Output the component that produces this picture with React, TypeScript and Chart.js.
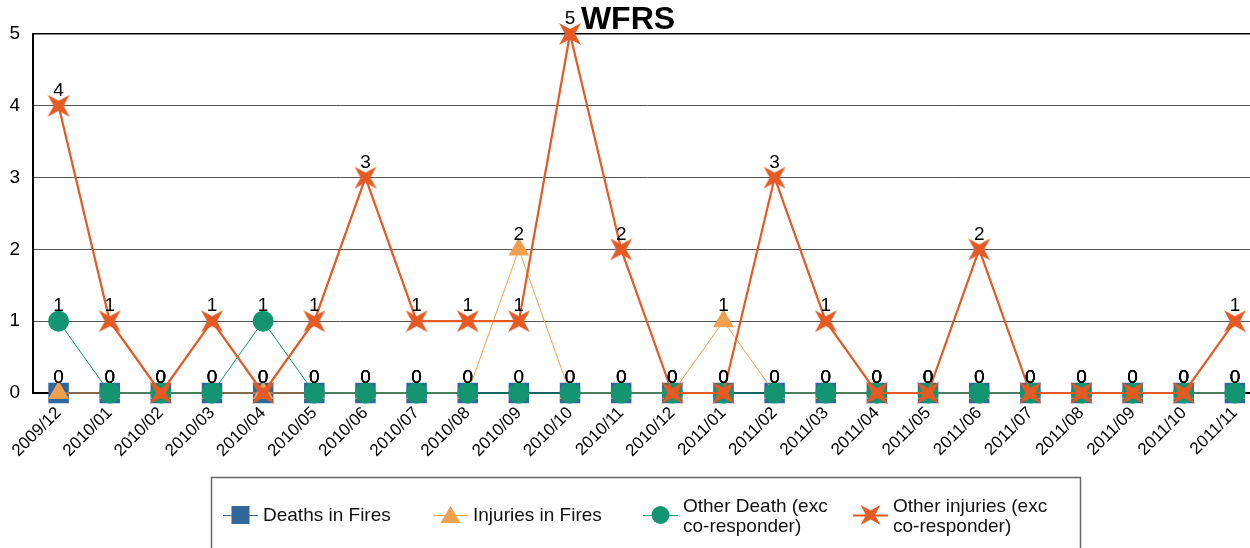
import React, { useEffect, useRef } from "react";
import { Chart, registerables } from "chart.js";

Chart.register(...registerables);

const titleText = "WFRS";

const categories = [
  "2009/12",
  "2010/01", "2010/02", "2010/03", "2010/04", "2010/05", "2010/06",
  "2010/07", "2010/08", "2010/09", "2010/10", "2010/11", "2010/12",
  "2011/01", "2011/02", "2011/03", "2011/04", "2011/05", "2011/06",
  "2011/07", "2011/08", "2011/09", "2011/10", "2011/11",
];

const deathsInFires = [0, 0, 0, 0, 0, 0, 0, 0, 0, 0, 0, 0, 0, 0, 0, 0, 0, 0, 0, 0, 0, 0, 0, 0];
const injuriesInFires = [0, 0, 0, 0, 0, 0, 0, 0, 0, 2, 0, 0, 0, 1, 0, 0, 0, 0, 0, 0, 0, 0, 0, 0];
const otherDeath = [1, 0, 0, 0, 1, 0, 0, 0, 0, 0, 0, 0, 0, 0, 0, 0, 0, 0, 0, 0, 0, 0, 0, 0];
const otherInjuries = [4, 1, 0, 1, 0, 1, 3, 1, 1, 1, 5, 2, 0, 0, 3, 1, 0, 0, 2, 0, 0, 0, 0, 1];

const yTicks = [0, 1, 2, 3, 4, 5];

const seriesNames = [
  ["Deaths in Fires"],
  ["Injuries in Fires"],
  ["Other Death (exc", "co-responder)"],
  ["Other injuries (exc", "co-responder)"],
];

const COLORS = {
  blue: "#336699",
  orange: "#F0A04E",
  green: "#129570",
  red: "#E35A24",
};

const FONT = '"Liberation Sans", Arial, Helvetica, sans-serif';

function drawStar(ctx: CanvasRenderingContext2D, cx: number, cy: number, tip: number, inner: number) {
  ctx.beginPath();
  ctx.moveTo(cx - tip, cy - tip);
  ctx.lineTo(cx, cy - inner);
  ctx.lineTo(cx + tip, cy - tip);
  ctx.lineTo(cx + inner, cy);
  ctx.lineTo(cx + tip, cy + tip);
  ctx.lineTo(cx, cy + inner);
  ctx.lineTo(cx - tip, cy + tip);
  ctx.lineTo(cx - inner, cy);
  ctx.closePath();
  ctx.fill();
}

function makeStarImage(): HTMLCanvasElement {
  const c = document.createElement("canvas");
  c.width = 26;
  c.height = 26;
  const ctx = c.getContext("2d")!;
  ctx.fillStyle = COLORS.red;
  drawStar(ctx, 13, 13, 11, 5);
  return c;
}

const valueLabels = {
  id: "valueLabels",
  afterDatasetsDraw(chart: any) {
    const ctx = chart.ctx;
    ctx.save();
    ctx.font = `19px ${FONT}`;
    ctx.fillStyle = "#000";
    ctx.textAlign = "center";
    ctx.textBaseline = "middle";
    chart.data.datasets.forEach((ds: any, i: number) => {
      const meta = chart.getDatasetMeta(i);
      meta.data.forEach((pt: any, j: number) => {
        ctx.fillText(String(ds.data[j]), pt.x, pt.y - 15);
      });
    });
    ctx.restore();
  },
};

const titlePlugin = {
  id: "titlePlugin",
  afterDraw(chart: any) {
    const ctx = chart.ctx;
    ctx.save();
    ctx.font = `bold 32px ${FONT}`;
    ctx.fillStyle = "#000";
    ctx.textAlign = "center";
    ctx.textBaseline = "alphabetic";
    ctx.fillText(titleText, 628, 29);
    ctx.restore();
  },
};

const legendPlugin = {
  id: "boxLegend",
  afterDraw(chart: any) {
    const ctx = chart.ctx;
    ctx.save();
    ctx.strokeStyle = "#666";
    ctx.lineWidth = 1.5;
    ctx.strokeRect(211.5, 477.5, 869, 120);
    const colors = [COLORS.blue, COLORS.orange, COLORS.green, COLORS.red];
    seriesNames.forEach((lines, i) => {
      const x0 = 223 + 210 * i;
      const cy = 515;
      const cx = x0 + 17.5;
      ctx.strokeStyle = colors[i];
      ctx.lineWidth = i === 3 ? 2 : 1;
      ctx.beginPath();
      ctx.moveTo(x0, cy + 0.5);
      ctx.lineTo(x0 + 35, cy + 0.5);
      ctx.stroke();
      ctx.fillStyle = colors[i];
      if (i === 0) {
        ctx.fillRect(cx - 9, cy - 9, 18, 18);
      } else if (i === 1) {
        ctx.beginPath();
        ctx.moveTo(cx, cy - 9);
        ctx.lineTo(cx + 10, cy + 8);
        ctx.lineTo(cx - 10, cy + 8);
        ctx.closePath();
        ctx.fill();
      } else if (i === 2) {
        ctx.beginPath();
        ctx.arc(cx, cy, 9, 0, Math.PI * 2);
        ctx.fill();
      } else {
        drawStar(ctx, cx, cy, 10, 4.5);
      }
      ctx.fillStyle = "#111";
      ctx.font = `19px ${FONT}`;
      ctx.textAlign = "left";
      ctx.textBaseline = "middle";
      if (lines.length === 1) {
        ctx.fillText(lines[0], x0 + 40, cy + 1);
      } else {
        ctx.fillText(lines[0], x0 + 40, cy - 8);
        ctx.fillText(lines[1], x0 + 40, cy + 12);
      }
    });
    ctx.restore();
  },
};

export default function App() {
  const canvasRef = useRef<HTMLCanvasElement | null>(null);

  useEffect(() => {
    const canvas = canvasRef.current;
    if (!canvas) return;
    const star = makeStarImage();
    const chart = new Chart(canvas, {
      type: "line",
      data: {
        labels: categories,
        datasets: [
          {
            label: seriesNames[0].join(" "),
            data: deathsInFires,
            borderColor: COLORS.blue,
            backgroundColor: COLORS.blue,
            borderWidth: 1,
            pointStyle: "rect",
            pointRadius: 14.5,
            pointBorderWidth: 0,
            pointBackgroundColor: COLORS.blue,
            order: 4,
            clip: false,
          },
          {
            label: seriesNames[1].join(" "),
            data: injuriesInFires,
            borderColor: COLORS.orange,
            backgroundColor: COLORS.orange,
            borderWidth: 1,
            pointStyle: "triangle",
            pointRadius: 12,
            pointBorderWidth: 0,
            pointBackgroundColor: COLORS.orange,
            order: 3,
            clip: false,
          },
          {
            label: seriesNames[2].join(" "),
            data: otherDeath,
            borderColor: COLORS.green,
            backgroundColor: COLORS.green,
            borderWidth: 1,
            pointStyle: "circle",
            pointRadius: 10.5,
            pointBorderWidth: 0,
            pointBackgroundColor: COLORS.green,
            order: 2,
            clip: false,
          },
          {
            label: seriesNames[3].join(" "),
            data: otherInjuries,
            borderColor: COLORS.red,
            backgroundColor: COLORS.red,
            borderWidth: 2.2,
            pointStyle: star as any,
            pointRadius: 11,
            pointBorderWidth: 0,
            order: 1,
            clip: false,
          },
        ],
      },
      options: {
        responsive: false,
        animation: false,
        devicePixelRatio: 1,
        layout: { padding: { top: 34, left: 0, right: 0, bottom: 0 } },
        plugins: {
          legend: { display: false },
          title: { display: false },
          tooltip: { enabled: false },
        },
        elements: { line: { tension: 0 } },
        scales: {
          x: {
            type: "category",
            offset: true,
            grid: { display: false, drawTicks: false },
            border: { display: true, color: "#000", width: 2 },
            ticks: {
              autoSkip: false,
              maxRotation: 45,
              minRotation: 45,
              padding: 10,
              color: "#000",
              font: { family: FONT, size: 17 },
            },
            afterFit: (s: any) => {
              s.height = 155;
            },
          },
          y: {
            min: 0,
            max: 5,
            grid: {
              drawTicks: false,
              color: (c: any) => (c.tick && c.tick.value === 5 ? "#000" : "#555"),
              lineWidth: (c: any) => (c.tick && c.tick.value === 5 ? 1.5 : 1),
            },
            border: { display: true, color: "#000", width: 2 },
            ticks: {
              padding: 13,
              color: "#000",
              font: { family: FONT, size: 19 },
            },
            afterBuildTicks: (s: any) => {
              s.ticks = yTicks.map((v) => ({ value: v }));
            },
            afterFit: (s: any) => {
              s.width = 33;
            },
          },
        },
      },
      plugins: [valueLabels, titlePlugin, legendPlugin],
    });
    return () => chart.destroy();
  }, []);

  return (
    <div
      style={{
        position: "fixed",
        left: 0,
        top: 0,
        width: 1250,
        height: 548,
        overflow: "hidden",
        background: "#fff",
      }}
    >
      <canvas ref={canvasRef} width={1275} height={548} style={{ display: "block" }} />
    </div>
  );
}
